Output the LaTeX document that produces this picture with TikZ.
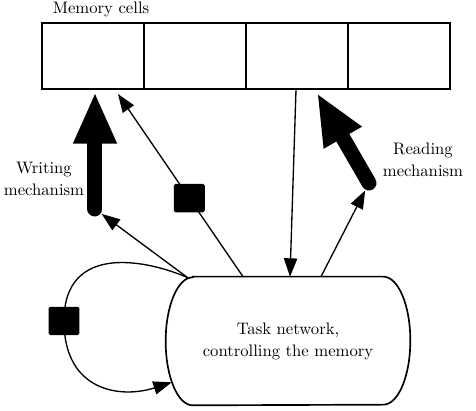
\documentclass[tikz,border=0pt]{standalone}
\usepackage{amsmath}
\usepackage{tikz}
\usetikzlibrary{arrows.meta,calc}

\begin{document}
\begin{tikzpicture}[x=0.6pt, y=0.6pt,
  cell/.style={draw, line width=1.2pt, minimum width=61.2pt, minimum height=39.6pt, inner sep=0pt},
  blk/.style={fill=black, rounded corners=1pt, minimum width=18.6pt, minimum height=17pt, inner sep=0pt},
  wire/.style={line width=0.8pt, -{Triangle[length=11pt,width=8pt]}},
  mech/.style={line width=9pt, line cap=round, -{Triangle[length=31pt,width=24pt]}},
  lbl/.style={align=center, font=\linespread{1.1}\selectfont}]
  \useasboundingbox (0,0) rectangle (476,411);
  \foreach \i/\x in {1/93,2/195,3/297,4/399}
    \node[cell] (cell\i) at (\x,355) {};
  \node (memlabel) at (101,402) {Memory cells};
  \node[lbl, minimum width=146.4pt, minimum height=76.8pt] (task) at (288,70) {Task network,\\controlling the memory};
  \draw[line width=1pt] ($(task.north west)+(27,0)$) -- ($(task.north east)+(-27,0)$)
    arc[start angle=90, end angle=-90, x radius=27, y radius=64]
    -- ($(task.south west)+(27,0)$)
    arc[start angle=270, end angle=90, x radius=27, y radius=64] -- cycle;
  \coordinate (tl) at ($(task.north west)+(22,-1)$);
  \coordinate (wtail) at (95,202);
  \coordinate (rtail) at (369,228);
  \node[lbl] (wlabel) at (44,232) {Writing\\mechanism};
  \node[lbl] (rlabel) at (423,251) {Reading\\mechanism};
  \draw[mech] (wtail) -- ($(cell1.south)+(2,-2)$);
  \draw[mech] (rtail) -- ($(cell3.south)+(20,-3)$);
  \draw[wire, shorten >=5pt] (tl) -- (wtail);
  \draw[wire, shorten >=5pt] ($(task.north)+(33,0)$) -- (rtail);
  \draw[wire] ($(task.north)+(-45,0)$) -- node[blk, pos=0.43] (gate) {} ($(cell1.south)+(25,-4)$);
  \draw[wire] ($(cell3.south)+(-1,0)$) -- ($(task.north)+(2,0)$);
  \node[blk] (loopgate) at (64,90) {};
  \draw[wire] (tl) .. controls (150,150) and (64,170) .. (loopgate.center)
    .. controls (64,20) and (120,12) .. ($(task.south west)+(6,23)$);
\end{tikzpicture}
\end{document}
